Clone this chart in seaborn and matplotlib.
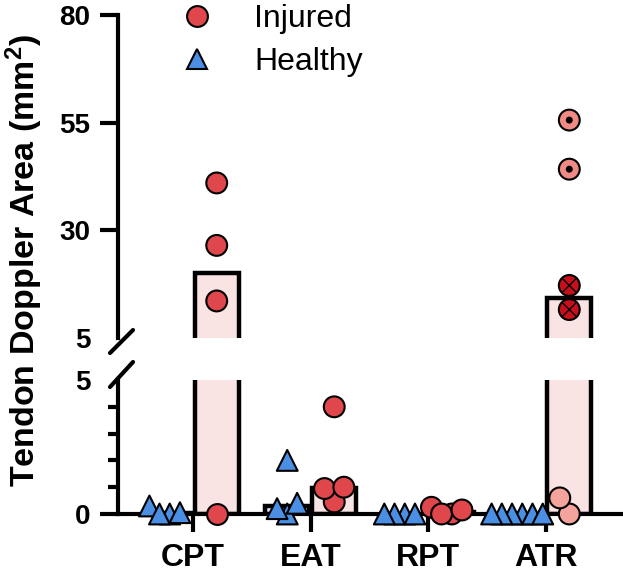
import numpy as np
import pandas as pd
import seaborn as sns
import matplotlib.pyplot as plt
from matplotlib.lines import Line2D

# values (mm^2)
tendons = ['CPT', 'EAT', 'RPT', 'ATR']
groups = ['Healthy', 'Injured']

healthy_cpt = [0.0, 0.3, 0.0, 0.05]
healthy_eat = [0.0, 0.4, 0.2, 2.0]
healthy_rpt = [0.0, 0.0, 0.0, 0.0]
healthy_atr = [0.0, 0.0, 0.0, 0.0, 0.0, 0.0]

injured_cpt = [0.0, 13.6, 26.5, 41.0]
injured_eat = [0.45, 0.95, 1.0, 4.0]
injured_rpt = [0.0, 0.25, 0.0, 0.15]
injured_atr = [0.0, 0.6, 11.6, 17.2, 44.2, 55.6]
atr_kind = ['light', 'light', 'cross', 'cross', 'dot', 'dot']

rows = []
for t, h, i in zip(tendons,
                   [healthy_cpt, healthy_eat, healthy_rpt, healthy_atr],
                   [injured_cpt, injured_eat, injured_rpt, injured_atr]):
    for v in h:
        rows.append((t, 'Healthy', v, 'healthy'))
    for k, v in enumerate(i):
        kind = atr_kind[k] if t == 'ATR' else 'plain'
        rows.append((t, 'Injured', v, kind))
df = pd.DataFrame(rows, columns=['tendon', 'group', 'area', 'kind'])

blue = '#4a8fe3'
red = '#e0474c'
bar_fill = {'Healthy': '#dde9fb', 'Injured': '#fde1df'}
kind_color = {'healthy': blue, 'plain': red, 'light': '#f4a49d',
              'cross': '#c8101c', 'dot': '#f08a84'}

sns.set_theme(style='ticks')
plt.rcParams['font.family'] = ['Liberation Sans', 'DejaVu Sans']
plt.rcParams['mathtext.fontset'] = 'custom'
plt.rcParams['mathtext.rm'] = 'Liberation Sans:bold'
plt.rcParams['mathtext.default'] = 'rm'
for key in ['text.color', 'axes.labelcolor', 'axes.edgecolor',
            'xtick.color', 'ytick.color']:
    plt.rcParams[key] = 'black'

fig = plt.figure(figsize=(6.23, 5.75), dpi=100)
ax_top = fig.add_axes([0.1894, 0.4122, 0.8074, 0.5617])
ax_bot = fig.add_axes([0.1894, 0.1061, 0.8074, 0.2330])

panels = [(ax_top, df[df['area'] > 5], True), (ax_bot, df[df['area'] <= 5], False)]

# swarm is laid out with a small collision size so markers may overlap
# (like the original), then markers are enlarged
resize = []
for ax, sub, clip in panels:
    sns.barplot(data=df, x='tendon', y='area', hue='group', order=tendons,
                hue_order=groups, estimator='median', errorbar=None,
                palette=bar_fill, edgecolor='black', linewidth=3.2,
                gap=0.06, legend=False, ax=ax)
    for kind, color in kind_color.items():
        pts = sub[sub['kind'] == kind]
        if pts.empty:
            continue
        n0 = len(ax.collections)
        sns.swarmplot(data=pts, x='tendon', y='area', hue='group',
                      order=tendons, hue_order=groups, dodge=True,
                      palette={g: color for g in groups},
                      marker='^' if kind == 'healthy' else 'o', size=6,
                      edgecolor='black', linewidth=1.5, legend=False,
                      warn_thresh=1, zorder=4, ax=ax)
        resize += [(c, 15, clip) for c in ax.collections[n0:]]
    # inner marks of the ATR sub-groups
    for kind, mk, sz in [('cross', 'x', 10.5), ('dot', 'o', 4)]:
        pts = sub[sub['kind'] == kind]
        if pts.empty:
            continue
        n0 = len(ax.collections)
        sns.swarmplot(data=pts, x='tendon', y='area', hue='group',
                      order=tendons, hue_order=groups, dodge=True,
                      palette={g: 'black' for g in groups}, marker=mk,
                      size=6, linewidth=1.0, edgecolor='black',
                      legend=False, warn_thresh=1, zorder=5, ax=ax)
        resize += [(c, sz, clip) for c in ax.collections[n0:]]

fig.canvas.draw()
for coll, sz, clip in resize:
    if 'draw' in coll.__dict__:
        del coll.draw
    if len(coll.get_offsets()) == 0:
        coll.remove()
        continue
    coll.set_sizes([sz ** 2])
    coll.set_clip_on(clip)

for ax in (ax_top, ax_bot):
    ax.set_xlim(-0.64, 3.64)
    ax.set_xlabel('')
    ax.set_ylabel('')
    ax.spines['top'].set_visible(False)
    ax.spines['right'].set_visible(False)
    ax.spines['left'].set_linewidth(3)
    ax.tick_params(axis='y', which='major', length=13, width=3, pad=7,
                   labelsize=20, direction='out')

ax_top.set_ylim(5, 80)
ax_top.set_yticks([5, 30, 55, 80])
ax_top.set_yticklabels(['5', '30', '55', '80'], fontweight='bold')
ax_top.spines['bottom'].set_visible(False)
ax_top.tick_params(axis='x', bottom=False, labelbottom=False)
ax_top.yaxis.get_major_ticks()[0].tick1line.set_visible(False)

ax_bot.set_ylim(0, 5)
ax_bot.set_yticks([0, 5])
ax_bot.set_yticklabels(['0', '5'], fontweight='bold')
ax_bot.set_yticks([1, 2, 3, 4], minor=True)
ax_bot.tick_params(axis='y', which='minor', length=7, width=3, left=True)
ax_bot.yaxis.get_major_ticks()[1].tick1line.set_visible(False)
ax_bot.spines['bottom'].set_linewidth(3)
ax_bot.tick_params(axis='x', length=13, width=3, pad=8, labelsize=23)
ax_bot.set_xticks(range(len(tendons)))
ax_bot.set_xticklabels(tendons, fontweight='bold')

# axis break marks
W, H = 623, 575
for y0, y1 in [(353, 330), (387, 362)]:
    fig.add_artist(Line2D([110 / W, 133 / W], [1 - y0 / H, 1 - y1 / H],
                          color='black', lw=3))

fig.text(24 / W, 1 - 260 / H, 'Tendon Doppler Area (mm$^2$)', rotation=90,
         fontsize=24.5, fontweight='bold', ha='center', va='center')

handles = [
    Line2D([], [], marker='o', ls='', markersize=15, mfc=red, mec='black',
           mew=1.5, label='Injured'),
    Line2D([], [], marker='^', ls='', markersize=15, mfc=blue, mec='black',
           mew=1.5, label='Healthy'),
]
fig.legend(handles=handles, loc='upper left', bbox_to_anchor=(165 / W, 0.993),
           frameon=False, fontsize=23, handletextpad=0.8, labelspacing=0.4,
           borderpad=0, borderaxespad=0)

fig.savefig('out.png', dpi=100)
